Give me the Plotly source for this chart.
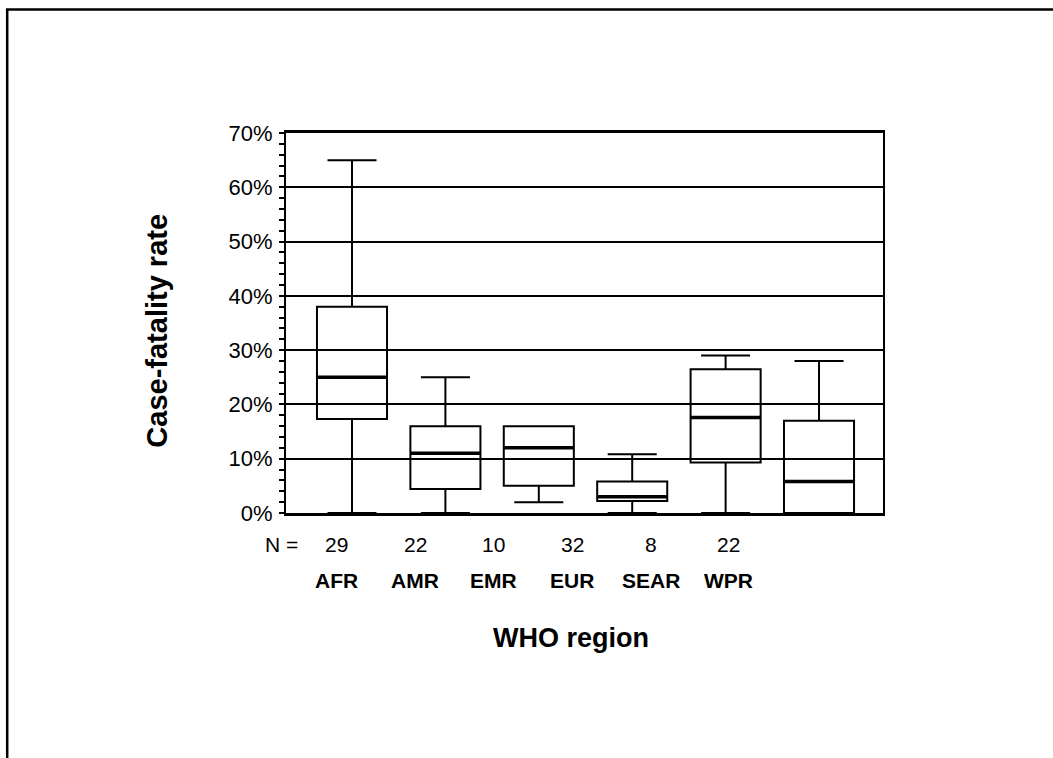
import plotly.graph_objects as go

# Case-fatality rate by WHO region (box summaries, % )
regions = ["AFR", "AMR", "EMR", "EUR", "SEAR", "WPR"]
n_counts = [29, 22, 10, 32, 8, 22]
lower = [0, 0, 2, 0, 0, 0]
q1 = [17.3, 4.4, 5.0, 2.2, 9.3, 0.0]
median = [25.0, 11.0, 12.0, 3.0, 17.6, 5.8]
q3 = [38.0, 16.0, 16.0, 5.8, 26.5, 17.0]
upper = [65.0, 25.0, 16.0, 10.8, 29.0, 28.0]
y_ticks = [0, 10, 20, 30, 40, 50, 60, 70]
y_tick_text = [f"{v}%" for v in y_ticks]

FONT = "Liberation Sans, Arial, sans-serif"
BOX_W = 0.75
pos = list(range(len(regions)))

fig = go.Figure()

fig.add_trace(go.Box(
    x=pos, q1=q1, median=median, q3=q3,
    lowerfence=lower, upperfence=upper,
    width=BOX_W, whiskerwidth=0.7,
    line=dict(color="black", width=2),
    fillcolor="rgba(0,0,0,0)",
    boxpoints=False, showlegend=False, hoverinfo="skip",
))

# heavier median strokes
mx, my = [], []
for i, m in zip(pos, median):
    mx += [i - BOX_W / 2, i + BOX_W / 2, None]
    my += [m, m, None]
fig.add_trace(go.Scatter(x=mx, y=my, mode="lines",
                         line=dict(color="black", width=3.5),
                         showlegend=False, hoverinfo="skip"))

# N counts and region names under the axis
label_x0, label_step = 0.0854, 0.1313
ann = [dict(text="N =", xref="paper", yref="paper", x=-0.0072, y=0,
            yshift=-31, showarrow=False, xanchor="center", yanchor="middle",
            font=dict(family=FONT, size=21, color="black"))]
for i, (r, n) in enumerate(zip(regions, n_counts)):
    xp = label_x0 + label_step * i
    ann.append(dict(text=str(n), xref="paper", yref="paper", x=xp, y=0,
                    yshift=-31, showarrow=False, xanchor="center", yanchor="middle",
                    font=dict(family=FONT, size=21, color="black")))
    ann.append(dict(text=f"<b>{r}</b>", xref="paper", yref="paper", x=xp, y=0,
                    yshift=-67, showarrow=False, xanchor="center", yanchor="middle",
                    font=dict(family=FONT, size=21, color="black")))

ann.append(dict(text="<b>WHO region</b>", xref="paper", yref="paper",
                x=0.477, y=0, yshift=-125, showarrow=False,
                xanchor="center", yanchor="middle",
                font=dict(family=FONT, size=27, color="black")))
ann.append(dict(text="<b>Case-fatality rate</b>", xref="paper", yref="paper",
                x=-0.216, y=0.48, textangle=-90, showarrow=False,
                xanchor="center", yanchor="middle",
                font=dict(family=FONT, size=29, color="black")))

fig.update_layout(
    width=1053, height=758,
    margin=dict(l=286, r=170, t=133, b=245),
    paper_bgcolor="white", plot_bgcolor="white",
    annotations=ann,
    shapes=[dict(type="rect", xref="paper", yref="paper",
                 x0=-0.467, x1=2.0, y0=-2.0, y1=1.325,
                 line=dict(color="black", width=2.5), layer="below")],
    xaxis=dict(range=[-0.7066, 5.685], showticklabels=False, ticks="",
               showgrid=False, zeroline=False, mirror=True,
               showline=True, linecolor="black", linewidth=2.5),
    yaxis=dict(range=[0, 70], tickmode="array", tickvals=y_ticks,
               ticktext=y_tick_text,
               showgrid=True, gridcolor="black", gridwidth=1.6,
               zeroline=False, showline=True, linecolor="black", linewidth=2,
               mirror=True, ticks="outside", ticklen=5, tickcolor="black",
               tickwidth=1.5, ticklabelstandoff=2,
               tickfont=dict(family=FONT, size=22, color="black"),
               minor=dict(dtick=2, ticks="outside", ticklen=5,
                          tickcolor="black", tickwidth=1.5, showgrid=False)),
)

fig.write_html("out.html")
